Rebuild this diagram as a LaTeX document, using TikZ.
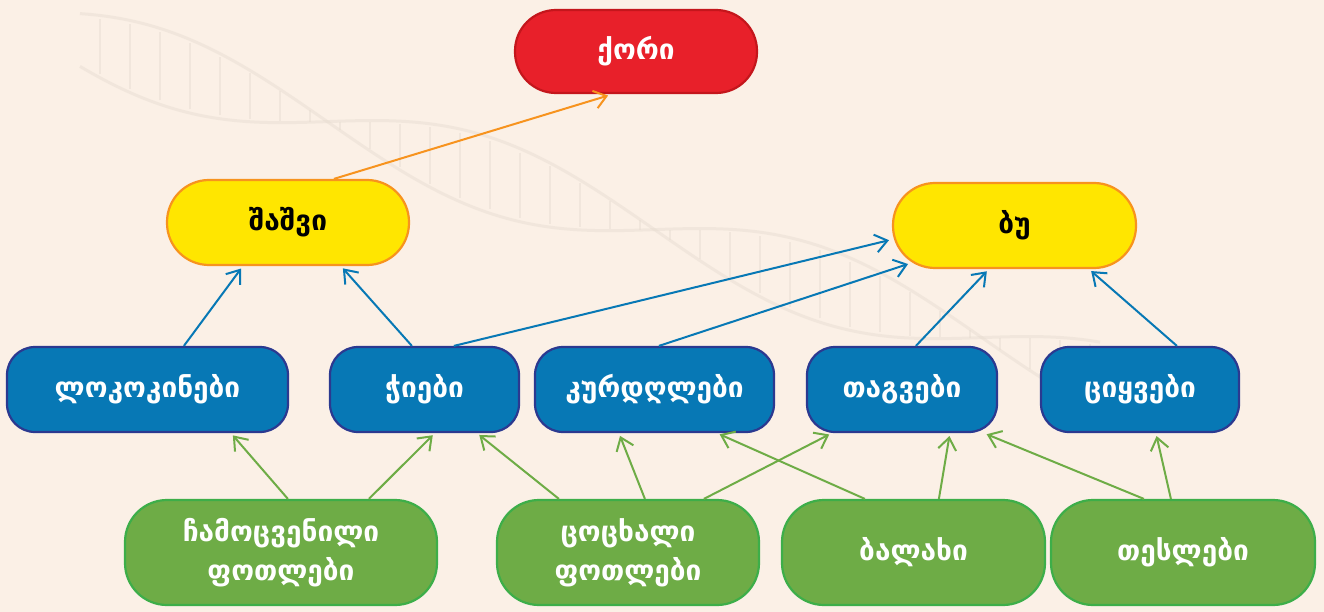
\documentclass[tikz,border=0pt]{standalone}
\usepackage{fontspec}
\setmainfont{DejaVu Sans}
\usetikzlibrary{arrows.meta}
\definecolor{bgc}{HTML}{FBF0E6}
\definecolor{redf}{HTML}{E8202A}
\definecolor{redd}{HTML}{C4161C}
\definecolor{yelf}{HTML}{FFE600}
\definecolor{orng}{HTML}{F7931E}
\definecolor{bluf}{HTML}{0778B5}
\definecolor{blud}{HTML}{2B3990}
\definecolor{grnf}{HTML}{6EAC46}
\definecolor{grnd}{HTML}{3DAE49}
\definecolor{dnac}{HTML}{E6DCD0}
\tikzset{
  box/.style={draw, line width=2.2pt, inner sep=0pt, align=center,
    font=\bfseries\fontsize{28}{39}\selectfont},
  redbox/.style={box, fill=redf, draw=redd, text=white, rounded corners=41pt},
  yelbox/.style={box, fill=yelf, draw=orng, text=black, rounded corners=42pt},
  blubox/.style={box, fill=bluf, draw=blud, text=white, rounded corners=28pt,
    minimum height=85pt},
  grnbox/.style={box, fill=grnf, draw=grnd, text=white, rounded corners=42pt,
    minimum height=105pt},
  arr/.style={line width=2pt, -{Straight Barb[length=12pt,width=18pt,line width=2pt]}},
  orarr/.style={arr, draw=orng},
  blarr/.style={arr, draw=bluf},
  grarr/.style={arr, draw=grnf}
}
\begin{document}
\begin{tikzpicture}[x=1pt,y=-1pt]
\useasboundingbox (0,0) rectangle (1324,612);
\fill[bgc] (0,0) rectangle (1324,612);
% faint DNA helix
\begin{scope}[dnac, line width=3pt, opacity=0.45]
\draw[domain=80:1100, samples=120, smooth] plot (\x, {40+0.33*(\x-80)+38*sin(0.55*\x)});
\draw[domain=80:1100, samples=120, smooth] plot (\x, {40+0.33*(\x-80)-38*sin(0.55*\x)});
\foreach \x in {100,130,...,1090} {
  \draw[line width=2pt] (\x, {40+0.33*(\x-80)+34*sin(0.55*\x)}) -- (\x, {40+0.33*(\x-80)-34*sin(0.55*\x)});
}
\end{scope}

% nodes
\node[redbox, minimum width=242pt, minimum height=83pt] (kori) at (636,51.5) {ქორი};
\node[yelbox, minimum width=242pt, minimum height=85pt] (shashvi) at (288,222.5) {შაშვი};
\node[yelbox, minimum width=243pt, minimum height=85pt] (bu) at (1014.5,225.5) {ბუ};

\node[blubox, minimum width=281pt] (lok) at (147.5,389.5) {ლოკოკინები};
\node[blubox, minimum width=189pt] (chi) at (424.5,389.5) {ჭიები};
\node[blubox, minimum width=239pt] (kur) at (654.5,389.5) {კურდღლები};
\node[blubox, minimum width=190pt] (tag) at (902,389.5) {თაგვები};
\node[blubox, minimum width=198pt] (tsiy) at (1140,389.5) {ციყვები};

\node[grnbox, minimum width=312pt] (chamo) at (281,552.5) {ჩამოცვენილი\\ფოთლები};
\node[grnbox, minimum width=262pt] (tsots) at (628,552.5) {ცოცხალი\\ფოთლები};
\node[grnbox, minimum width=263pt] (balakhi) at (913.5,552.5) {ბალახი};
\node[grnbox, minimum width=264pt] (tesl) at (1183,552.5) {თესლები};

% orange
\draw[orarr, shorten >=5pt] ([xshift=168pt]shashvi.north west) -- ([xshift=99pt]kori.south west);
% blue
\draw[blarr, shorten >=3pt] ([xshift=178pt]lok.north west) -- ([xshift=77pt]shashvi.south west);
\draw[blarr, shorten >=3pt] ([xshift=83pt]chi.north west) -- ([xshift=175pt]shashvi.south west);
\draw[blarr, shorten >=3pt] ([xshift=125pt]chi.north west) -- ([yshift=-14pt]bu.west);
\draw[blarr, shorten >=3pt] ([xshift=125pt]kur.north west) -- ([xshift=19pt,yshift=6pt]bu.south west);
\draw[blarr, shorten >=3pt] ([xshift=110pt]tag.north west) -- ([xshift=97pt]bu.south west);
\draw[blarr, shorten >=3pt] ([xshift=137pt]tsiy.north west) -- ([xshift=197pt]bu.south west);
% green
\draw[grarr, shorten >=3pt] ([xshift=164pt]chamo.north west) -- ([xshift=225pt]lok.south west);
\draw[grarr, shorten >=3pt] ([xshift=245pt]chamo.north west) -- ([xshift=106pt]chi.south west);
\draw[grarr, shorten >=3pt] ([xshift=63pt]tsots.north west) -- ([xshift=148pt]chi.south west);
\draw[grarr, shorten >=3pt] ([xshift=149pt]tsots.north west) -- ([xshift=85pt]kur.south west);
\draw[grarr, shorten >=3pt] ([xshift=208pt]tsots.north west) -- ([xshift=26pt]tag.south west);
\draw[grarr, shorten >=3pt] ([xshift=84pt]balakhi.north west) -- ([xshift=183pt]kur.south west);
\draw[grarr, shorten >=3pt] ([xshift=158pt]balakhi.north west) -- ([xshift=144pt]tag.south west);
\draw[grarr, shorten >=3pt] ([xshift=94pt]tesl.north west) -- ([xshift=178pt]tag.south west);
\draw[grarr, shorten >=3pt] ([xshift=121pt]tesl.north west) -- ([xshift=116pt]tsiy.south west);
\end{tikzpicture}
\end{document}
